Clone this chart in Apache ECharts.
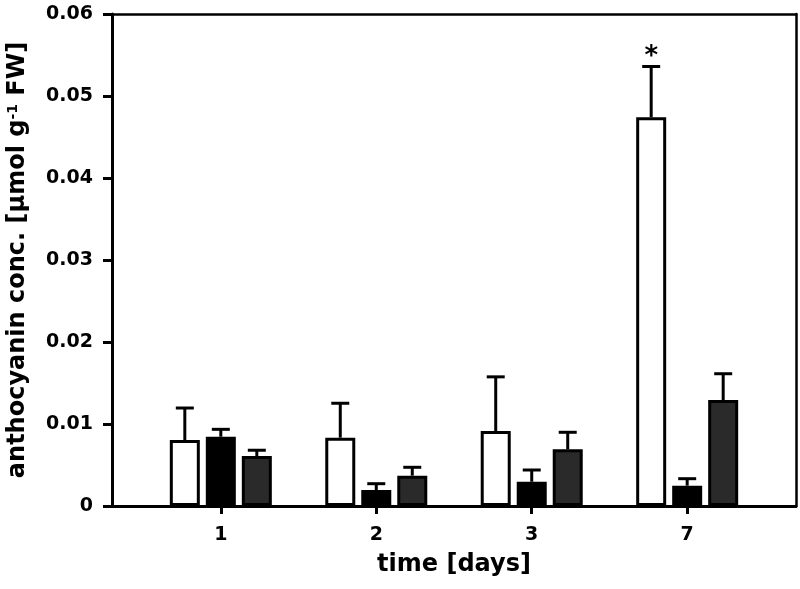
<!DOCTYPE html>
<html>
<head>
<meta charset="utf-8">
<script src="https://cdn.jsdelivr.net/npm/echarts@6/dist/echarts.min.js"></script>
<style>html,body{margin:0;padding:0;background:#fff}#c{width:800px;height:589px}</style>
</head>
<body>
<div id="c"></div>
<script>
// ---- data ----
var categories = ['1', '2', '3', '7'];
var whiteMean = [0.00805, 0.00833, 0.00915, 0.0474];
var whiteErr  = [0.0039, 0.0042, 0.0066, 0.0062];
var blackMean = [0.00845, 0.00195, 0.00296, 0.00248];
var blackErr  = [0.0009, 0.00077, 0.00143, 0.00085];
var grayMean  = [0.0061, 0.0037, 0.00691, 0.01293];
var grayErr   = [0.0007, 0.00102, 0.00208, 0.0032];
var whiteSig  = ['', '', '', '*'];
var yTicks = [0, 0.01, 0.02, 0.03, 0.04, 0.05, 0.06];

// ---- styling ----
var FONT = 'DejaVu Sans';
var BAR_W = 30, BAR_STEP = 36, CAP = 18;
var xPos = categories.map(function (c, i) { return i + 1; });

function pairs(arr) { return arr.map(function (v, i) { return [xPos[i], v]; }); }
function errData(mean, err, sig) {
  return mean.map(function (v, i) { return [xPos[i], v, err[i], sig ? sig[i] : '']; });
}
function errSeries(mean, err, offset, sig) {
  return {
    type: 'custom',
    data: errData(mean, err, sig),
    encode: { x: 0, y: [1, 2] },
    z: 5,
    silent: true,
    renderItem: function (params, api) {
      var x = api.value(0), m = api.value(1), e = api.value(2);
      var base = api.coord([x, m]);
      var top = api.coord([x, m + e]);
      var cx = base[0] + offset;
      var children = [
        { type: 'line', shape: { x1: cx, y1: base[1], x2: cx, y2: top[1] }, style: { stroke: '#000', lineWidth: 3 } },
        { type: 'line', shape: { x1: cx - CAP / 2, y1: top[1], x2: cx + CAP / 2, y2: top[1] }, style: { stroke: '#000', lineWidth: 3 } }
      ];
      var s = sig ? sig[params.dataIndex] : '';
      if (s) {
        children.push({ type: 'text', style: { text: s, x: cx, y: top[1] - 9, align: 'center', verticalAlign: 'middle',
          font: 'bold 26px "' + FONT + '"', fill: '#000' } });
      }
      return { type: 'group', children: children };
    }
  };
}

var chart = echarts.init(document.getElementById('c'), null, { renderer: 'canvas' });
var axisLbl = { fontFamily: FONT, fontWeight: 'bold', fontSize: 19, color: '#000' };
var gapPct = ((BAR_STEP - BAR_W) / BAR_W * 100) + '%';
chart.setOption({
  animation: false,
  backgroundColor: '#fff',
  grid: { left: 112, right: 4, top: 14, bottom: 83, containLabel: false, outerBoundsMode: 'none' },
  xAxis: [{
    type: 'value', min: 0.3, max: 4.7,
    name: 'time [days]', nameLocation: 'middle', nameGap: 47,
    nameTextStyle: { fontFamily: FONT, fontWeight: 'bold', fontSize: 24, color: '#000' },
    axisLine: { show: true, onZero: false, lineStyle: { color: '#000', width: 3 } },
    axisTick: { show: true, length: 8, lineStyle: { color: '#000', width: 3 }, customValues: xPos },
    axisLabel: Object.assign({ margin: 20, customValues: xPos,
      formatter: function (v) { return categories[Math.round(v) - 1] || ''; } }, axisLbl),
    splitLine: { show: false }
  }, {
    type: 'value', min: 0.3, max: 4.7, position: 'top',
    axisLine: { show: true, onZero: false, lineStyle: { color: '#000', width: 2.5 } },
    axisTick: { show: false }, axisLabel: { show: false }, splitLine: { show: false }
  }],
  yAxis: [{
    type: 'value', min: 0, max: 0.06, interval: 0.01,
    name: 'anthocyanin conc. [\u00b5mol g{sup|-1} FW]', nameLocation: 'middle', nameGap: 82, nameRotate: 90,
    nameTextStyle: { fontFamily: FONT, fontWeight: 'bold', fontSize: 24, color: '#000',
      rich: { sup: { fontFamily: FONT, fontWeight: 'bold', fontSize: 14, verticalAlign: 'top', padding: [0, 0, 10, 0], color: '#000' } } },
    axisLine: { show: true, lineStyle: { color: '#000', width: 3 } },
    axisTick: { show: true, length: 9, lineStyle: { color: '#000', width: 3 } },
    axisLabel: Object.assign({ margin: 19, formatter: function (v) {
      var t = yTicks.find(function (k) { return Math.abs(k - v) < 1e-9; });
      return t === 0 ? '0' : v.toFixed(2); } }, axisLbl),
    splitLine: { show: false }
  }, {
    type: 'value', min: 0, max: 0.06, position: 'right',
    axisLine: { show: true, lineStyle: { color: '#000', width: 2.5 } },
    axisTick: { show: false }, axisLabel: { show: false }, splitLine: { show: false }
  }],
  series: [
    { name: 'white', type: 'bar', data: pairs(whiteMean), barWidth: BAR_W, barGap: gapPct,
      itemStyle: { color: '#fff', borderColor: '#000', borderWidth: 3 } },
    { name: 'black', type: 'bar', data: pairs(blackMean), barWidth: BAR_W, barGap: gapPct,
      itemStyle: { color: '#000', borderColor: '#000', borderWidth: 3 } },
    { name: 'gray', type: 'bar', data: pairs(grayMean), barWidth: BAR_W, barGap: gapPct,
      itemStyle: { color: '#2a2a2a', borderColor: '#000', borderWidth: 3 } },
    errSeries(whiteMean, whiteErr, -BAR_STEP, whiteSig),
    errSeries(blackMean, blackErr, 0),
    errSeries(grayMean, grayErr, BAR_STEP)
  ]
});
</script>
</body>
</html>
